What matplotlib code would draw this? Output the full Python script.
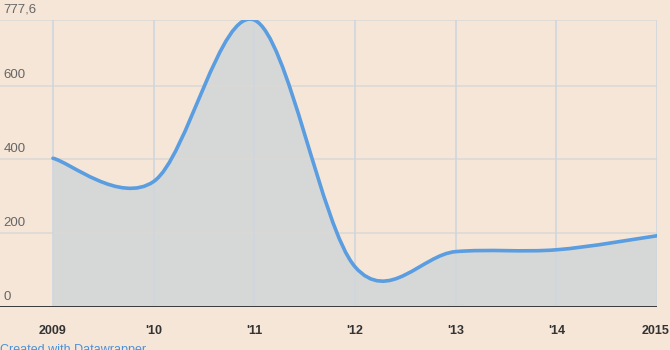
import numpy as np
import matplotlib
matplotlib.use("Agg")
import matplotlib.pyplot as plt
from matplotlib.path import Path
from matplotlib.patches import PathPatch
from matplotlib.transforms import ScaledTranslation

years = [2009, 2010, 2011, 2012, 2013, 2014, 2015]
values = [403, 340, 777.6, 109, 150, 155, 193]
x_labels = ["2009", "'10", "'11", "'12", "'13", "'14", "2015"]
y_ticks = [0, 200, 400, 600, 777.6]
y_labels = ["0", "200", "400", "600", "777,6"]

bg = "#f5e6d7"
fill_col = "#d6d8d7"
line_col = "#5a9de0"

plt.rcParams['font.family'] = ['Liberation Sans', 'DejaVu Sans']


def catmull_rom_path(xs, ys):
    # cardinal curve (tension 0) as cubic bezier segments, like d3 curveCardinal
    pts = np.column_stack([xs, ys]).astype(float)
    ext = np.vstack([pts[0], pts, pts[-1]])
    verts = [tuple(pts[0])]
    codes = [Path.MOVETO]
    for i in range(1, len(ext) - 2):
        p0, p1, p2, p3 = ext[i - 1], ext[i], ext[i + 1], ext[i + 2]
        c1 = p1 + (p2 - p0) / 6
        c2 = p2 - (p3 - p1) / 6
        verts += [tuple(c1), tuple(c2), tuple(p2)]
        codes += [Path.CURVE4] * 3
    return verts, codes


fig = plt.figure(figsize=(6.7, 3.5), dpi=100, facecolor=bg)
ax = fig.add_axes([0, 43 / 350, 657 / 670, 287 / 350])
ax.set_facecolor(bg)

verts, codes = catmull_rom_path(years, values)

# area under the curve
area_verts = verts + [(years[-1], 0), (years[0], 0), verts[0]]
area_codes = codes + [Path.LINETO, Path.LINETO, Path.CLOSEPOLY]
ax.add_patch(PathPatch(Path(area_verts, area_codes), facecolor=fill_col,
                       edgecolor="none", zorder=1))
ax.add_patch(PathPatch(Path(verts, codes), facecolor="none", edgecolor=line_col,
                       lw=2.6, capstyle="round", joinstyle="round", zorder=4))

ax.set_xlim(2009 - 53 / 100.67, 2015)
ax.set_ylim(0, 777.6)

# grid
for yv in y_ticks[1:]:
    ax.axhline(yv, color="#dcd9d5", lw=1.2, zorder=2)
for xv in years:
    ax.plot([xv, xv], [0, 777.6], color="#cfd6de", lw=1.2, zorder=2)
ax.axhline(0, color="#3a3a3a", lw=1.4, zorder=5)

for yv, lab in zip(y_ticks, y_labels):
    ax.annotate(lab, (0, yv), xycoords=("axes fraction", "data"),
                xytext=(2.5, 3), textcoords="offset points",
                ha="left", va="bottom", fontsize=9.5, color="#666666")

ax.set_xticks(years)
ax.set_xticklabels(x_labels, fontsize=9, fontweight="bold", color="#333333")
ax.tick_params(axis="x", length=0, pad=13)
# last label sits flush with the right edge, as in the original
last = ax.get_xticklabels()[-1]
last.set_horizontalalignment("right")
last.set_transform(last.get_transform() + ScaledTranslation(0.12, 0, fig.dpi_scale_trans))
ax.set_yticks([])
for s in ax.spines.values():
    s.set_visible(False)

fig.text(0.0, -6 / 350, "Created with Datawrapper", color="#4a90d9",
         fontsize=9, ha="left", va="bottom")

fig.savefig("out.png", dpi=100, facecolor=bg)
